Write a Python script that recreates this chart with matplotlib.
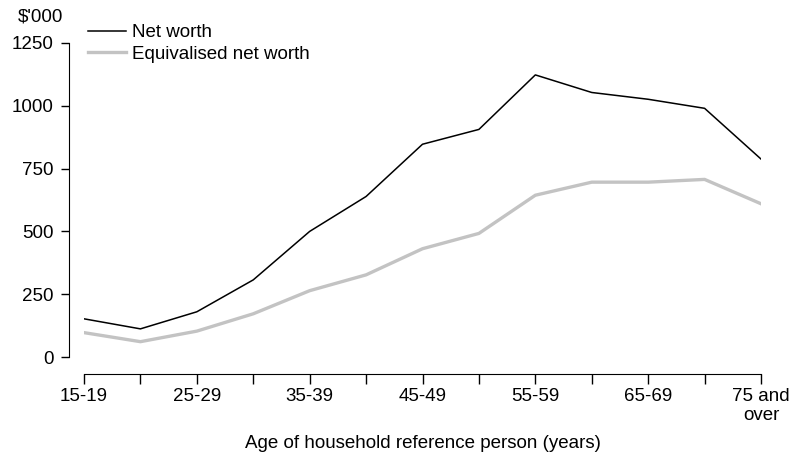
import matplotlib.pyplot as plt

# Age groups of household reference person
age_groups = ['15-19', '20-24', '25-29', '30-34', '35-39', '40-44', '45-49',
              '50-54', '55-59', '60-64', '65-69', '70-74', '75 and\nover']

# Mean values ($'000)
net_worth = [152, 112, 180, 307, 500, 639, 847, 906, 1123, 1053, 1026, 990, 788]
equivalised = [97, 61, 103, 172, 264, 327, 431, 492, 644, 696, 696, 707, 610]

plt.rcParams['font.family'] = ['Liberation Sans', 'DejaVu Sans']
plt.rcParams['font.size'] = 13.5

W, H = 796, 453
fig = plt.figure(figsize=(W / 100, H / 100), dpi=100)
ax = fig.add_axes([84 / W, (H - 357) / H, (761 - 84) / W, (357 - 43) / H])

x = list(range(len(age_groups)))
ax.plot(x, net_worth, color='black', lw=1.1, label='Net worth')
ax.plot(x, equivalised, color='#c3c3c3', lw=2.4, label='Equivalised net worth')

ax.set_xlim(0, len(age_groups) - 1)
ax.set_ylim(0, 1250)
ax.set_yticks([0, 250, 500, 750, 1000, 1250])
ax.set_xticks(x)
ax.set_xticklabels([lab if i % 2 == 0 else '' for i, lab in enumerate(age_groups)])

# detached spines like the original
for s in ['top', 'right']:
    ax.spines[s].set_visible(False)
ax.spines['left'].set_position(('outward', 11))
ax.spines['bottom'].set_position(('outward', 12))
ax.spines['left'].set_bounds(0, 1250)
ax.spines['bottom'].set_bounds(0, len(age_groups) - 1)
ax.tick_params(axis='y', length=6, width=1, pad=5)
ax.tick_params(axis='x', length=7, width=1, pad=3)

ax.set_xlabel('Age of household reference person (years)', labelpad=8)
fig.text(18 / W, 1 - 17 / H, "$'000", ha='left', va='center')

ax.legend(loc='upper left', bbox_to_anchor=(88 / W, 1 - 24 / H),
          bbox_transform=fig.transFigure, frameon=False,
          handlelength=2.0, handletextpad=0.32, labelspacing=0.25,
          borderpad=0, borderaxespad=0)

fig.savefig('out.png', dpi=100)
